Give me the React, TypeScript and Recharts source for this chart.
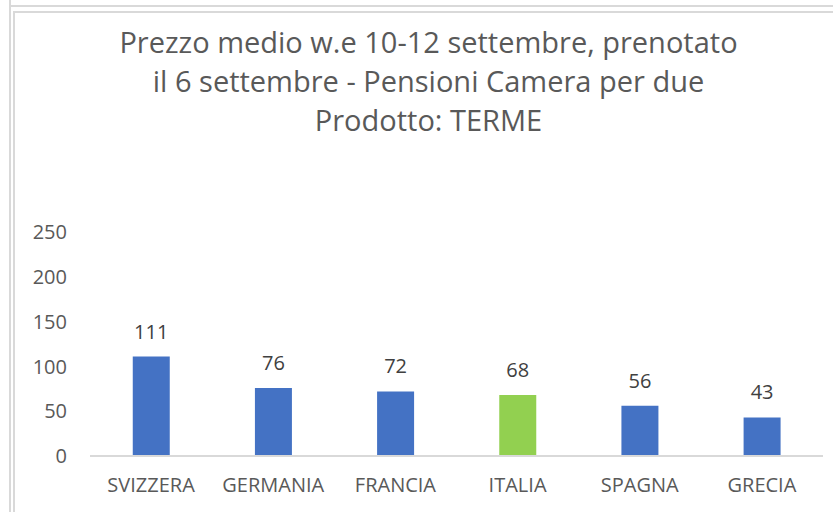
import { Bar, BarChart, Cell, LabelList, XAxis, YAxis } from "recharts";

const countries = ["SVIZZERA", "GERMANIA", "FRANCIA", "ITALIA", "SPAGNA", "GRECIA"];
const prices = [111, 76, 72, 68, 56, 43];
const yTicks = [0, 50, 100, 150, 200, 250];
const titleLines = [
  "Prezzo medio w.e 10-12 settembre, prenotato",
  "il 6 settembre - Pensioni Camera per due",
  "Prodotto: TERME",
];

const data = countries.map((name, i) => ({ name, value: prices[i] }));

const BLUE = "#4472C4";
const GREEN = "#92D050";
const TEXT = "#595959";
const FONT = "'Open Sans', 'Noto Sans', sans-serif";
const frame = "#d9d9d9";

export default function App() {
  return (
    <div
      style={{
        position: "absolute",
        left: 0,
        top: 0,
        width: 833,
        height: 512,
        background: "#fff",
        overflow: "hidden",
        fontFamily: FONT,
      }}
    >
      {/* sheet frame lines */}
      <div style={{ position: "absolute", left: 9, top: 0, width: 2, height: 512, background: frame }} />
      <div style={{ position: "absolute", left: 10, top: 5, width: 823, height: 2, background: frame }} />
      <div style={{ position: "absolute", left: 13, top: 11, width: 2, height: 501, background: frame }} />
      <div style={{ position: "absolute", left: 13, top: 11, width: 820, height: 2, background: frame }} />

      <div
        style={{
          position: "absolute",
          left: 0,
          top: 22,
          width: 857,
          textAlign: "center",
          color: TEXT,
          fontSize: 29,
          lineHeight: "39px",
        }}
      >
        {titleLines.map((t) => (
          <div key={t}>{t}</div>
        ))}
      </div>

      <div style={{ position: "absolute", left: 0, top: 0 }}>
        <BarChart
          width={833}
          height={512}
          data={data}
          margin={{ top: 232, right: 10, bottom: 26, left: 30 }}
          barCategoryGap="35%"
        >
          <XAxis
            dataKey="name"
            height={30}
            axisLine={{ stroke: frame, strokeWidth: 2 }}
            tickLine={false}
            tickSize={0}
            tickMargin={22}
            tick={{ fill: TEXT, fontSize: 20, fontFamily: FONT }}
            interval={0}
          />
          <YAxis
            width={60}
            domain={[0, 250]}
            ticks={yTicks}
            axisLine={false}
            tickLine={false}
            tickSize={0}
            tickMargin={23}
            tick={{ fill: TEXT, fontSize: 20, fontFamily: FONT }}
          />
          <Bar dataKey="value" isAnimationActive={false}>
            {data.map((d) => (
              <Cell key={d.name} fill={d.name === "ITALIA" ? GREEN : BLUE} />
            ))}
            <LabelList
              dataKey="value"
              position="top"
              offset={18}
              fill="#404040"
              fontSize={20}
              fontFamily={FONT}
            />
          </Bar>
        </BarChart>
      </div>
    </div>
  );
}
